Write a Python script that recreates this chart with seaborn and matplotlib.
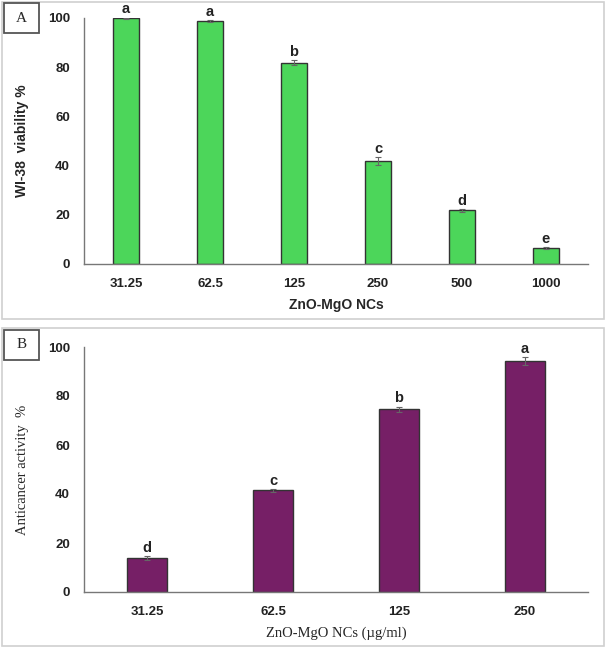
"""ZnO-MgO NCs: WI-38 viability (A) and anticancer activity (B)."""

import numpy as np
import pandas as pd
import seaborn as sns
import matplotlib.pyplot as plt
from matplotlib.patches import Rectangle

# Panel A data
conc_a = ["31.25", "62.5", "125", "250", "500", "1000"]
viability = [99.8, 98.8, 81.8, 41.9, 21.8, 6.5]
viability_err = [0.3, 0.3, 1.0, 1.5, 0.5, 0.3]
letters_a = ["a", "a", "b", "c", "d", "e"]

# Panel B data
conc_b = ["31.25", "62.5", "125", "250"]
activity = [13.9, 41.5, 74.6, 94.3]
activity_err = [0.8, 0.5, 1.0, 1.5]
letters_b = ["d", "c", "b", "a"]

GREEN = "#4cd65a"
PURPLE = "#761f66"

sns.set_theme(style="white")
plt.rcParams["font.family"] = ["Liberation Sans", "DejaVu Sans"]

W, H = 606, 649
fig = plt.figure(figsize=(W / 100, H / 100), dpi=100)


def px(x0, y0, x1, y1):
    """Pixel box (top-left origin) -> figure fraction rect."""
    return [x0 / W, 1 - y1 / H, (x1 - x0) / W, (y1 - y0) / H]


# panel frames and letter boxes
for (x0, y0, x1, y1) in [(2, 2, 604, 319), (2, 328, 604, 646)]:
    fig.add_artist(Rectangle((x0 / W, 1 - y1 / H), (x1 - x0) / W, (y1 - y0) / H,
                             transform=fig.transFigure, fill=False,
                             ec="#d0d0d0", lw=1.2))
for (x0, y0, x1, y1), txt in [((4, 3, 39, 33), "A"), ((4, 330, 39, 360), "B")]:
    fig.add_artist(Rectangle((x0 / W, 1 - y1 / H), (x1 - x0) / W, (y1 - y0) / H,
                             transform=fig.transFigure, fill=False,
                             ec="#555555", lw=1.3))
    fig.text((x0 + x1) / 2 / W, 1 - (y0 + y1) / 2 / H, txt, ha="center",
             va="center", fontsize=11, family="Liberation Serif")


def panel(ax, cats, vals, errs, letters, color, width):
    df = pd.DataFrame({"conc": cats, "val": vals})
    sns.barplot(data=df, x="conc", y="val", hue="conc", legend=False,
                palette=[color] * len(cats), width=width, errorbar=None,
                edgecolor="#333333", linewidth=1.0, ax=ax, saturation=1)
    x = np.arange(len(cats))
    ax.errorbar(x, vals, yerr=errs, fmt="none", ecolor="#666666",
                elinewidth=0.8, capsize=2.5, capthick=0.8)
    for xi, v, e, t in zip(x, vals, errs, letters):
        ax.text(xi, v + e + 0.6, t, ha="center", va="bottom",
                fontsize=10.5, fontweight="bold", color="#222222")
    ax.set_ylim(0, 100)
    ax.set_yticks(range(0, 101, 20))
    ax.set_xlim(-0.5, len(cats) - 0.5)
    sns.despine(ax=ax)
    for s in ("left", "bottom"):
        ax.spines[s].set_color("#777777")
        ax.spines[s].set_linewidth(1.0)
    ax.tick_params(axis="both", length=0, labelsize=9.5, pad=10)
    for lab in ax.get_xticklabels() + ax.get_yticklabels():
        lab.set_fontweight("bold")
        lab.set_color("#222222")


ax_a = fig.add_axes(px(84, 18, 588, 264))
panel(ax_a, conc_a, viability, viability_err, letters_a, GREEN, 0.31)
ax_a.set_xlabel("ZnO-MgO NCs", fontsize=10, fontweight="bold", labelpad=6)
ax_a.set_ylabel("WI-38  viability %", fontsize=10, fontweight="bold",
                labelpad=14)

ax_b = fig.add_axes(px(84, 347, 588, 592))
panel(ax_b, conc_b, activity, activity_err, letters_b, PURPLE, 0.31)
ax_b.set_xlabel("ZnO-MgO NCs (\u00b5g/ml)", fontsize=10.5,
                family="Liberation Serif", labelpad=6)
ax_b.set_ylabel("Anticancer activity  %", fontsize=10.5,
                family="Liberation Serif", labelpad=14)

fig.savefig("out.png", dpi=100)
